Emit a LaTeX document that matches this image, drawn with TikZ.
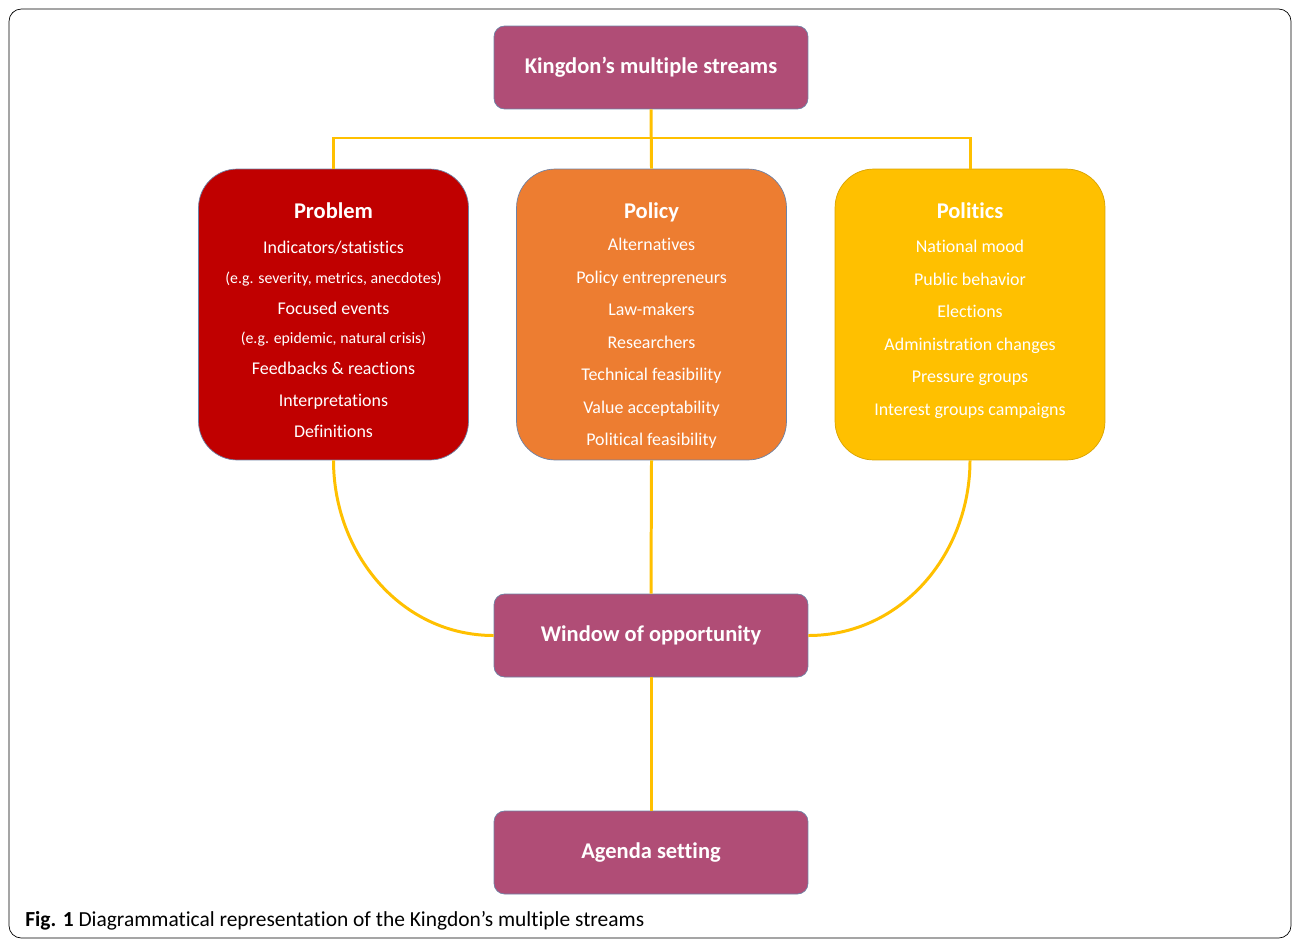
\documentclass[tikz,border=0pt]{standalone}
\usepackage{fontspec}
\setmainfont[Ligatures=NoCommon]{Carlito}
\usetikzlibrary{positioning}

\definecolor{kplum}{RGB}{176,77,118}
\definecolor{kred}{RGB}{192,0,0}
\definecolor{korange}{RGB}{237,125,49}
\definecolor{kyellow}{RGB}{255,192,0}
\definecolor{kedge}{RGB}{110,130,165}

\begin{document}
\begin{tikzpicture}[x=0.02cm,y=-0.02cm,
    mainbox/.style={draw=kedge,fill=kplum,rounded corners=6pt,minimum width=6.28cm,
        minimum height=1.66cm,text=white,font=\fontsize{12.8}{15}\selectfont\bfseries},
    streambox/.style={draw=kedge,rounded corners=22pt,minimum width=5.4cm,minimum height=5.82cm},
    streamtxt/.style={text=white,align=center,font=\fontsize{10.2}{12}\selectfont,inner sep=0pt},
    stream/.style={kyellow,line width=1.7pt}]

    \useasboundingbox (0,0) rectangle (1293,940);

    % outer frame
    \draw [thin,rounded corners=7pt] (9,9) rectangle (1291,938);

    % boxes
    \node[mainbox] (kingdon) at (651,67.5) {\raisebox{2pt}{Kingdon’s multiple streams}};
    \node[streambox,fill=kred] (problem) at (333.5,314.5) {};
    \node[streambox,fill=korange] (policy) at (651.5,314.5) {};
    \node[streambox,fill=kyellow,draw=kyellow!85!black] (politics) at (970,314.5) {};
    \node[mainbox] (window) at (651,635.5) {\raisebox{2pt}{Window of opportunity}};
    \node[mainbox] (agenda) at (651,852.5) {\raisebox{2pt}{Agenda setting}};

    % texts in the streams
    \newcommand{\ttl}[1]{{\fontsize{12.8}{15}\selectfont\bfseries #1}}
    \newcommand{\eg}[1]{{\fontsize{9}{10.5}\selectfont #1}}
    \node[streamtxt,below=0.67cm of problem.north] (problemtxt) {\ttl{Problem}\\[8pt]
        Indicators/statistics\\[5pt]
        \eg{(e.g. severity, metrics, anecdotes)}\\[5.5pt]
        Focused events\\[5pt]
        \eg{(e.g. epidemic, natural crisis)}\\[5.5pt]
        Feedbacks \& reactions\\[6pt]
        Interpretations\\[6pt]
        Definitions};
    \node[streamtxt,below=0.67cm of policy.north] (policytxt) {\ttl{Policy}\\[6.5pt]
        Alternatives\\[6.5pt]
        Policy entrepreneurs\\[6.5pt]
        Law-makers\\[6.5pt]
        Researchers\\[6.5pt]
        Technical feasibility\\[6.5pt]
        Value acceptability\\[6.5pt]
        Political feasibility};
    \node[streamtxt,below=0.67cm of politics.north] (politicstxt) {\ttl{Politics}\\[7.5pt]
        National mood\\[6.5pt]
        Public behavior\\[6.5pt]
        Elections\\[6.5pt]
        Administration changes\\[6.5pt]
        Pressure groups\\[6.5pt]
        Interest groups campaigns};

    % connectors
    \coordinate (split) at (651,138);
    \draw [stream] (kingdon.south) -- (policy.north);
    \draw [stream] (problem.north) |- (split) -| (politics.north);
    \draw [stream] (problem.south) to[out=-90,in=180] (window.west);
    \draw [stream] (politics.south) to[out=-90,in=0] (window.east);
    \draw [stream] (policy.south) -- (window.north);
    \draw [stream] (window.south) -- (agenda.north);

    % caption
    \node[anchor=west,font=\fontsize{12.2}{14}\selectfont,inner sep=0pt] (caption) at (25,921)
        {\textbf{Fig. 1} Diagrammatical representation of the Kingdon’s multiple streams};

\end{tikzpicture}
\end{document}
